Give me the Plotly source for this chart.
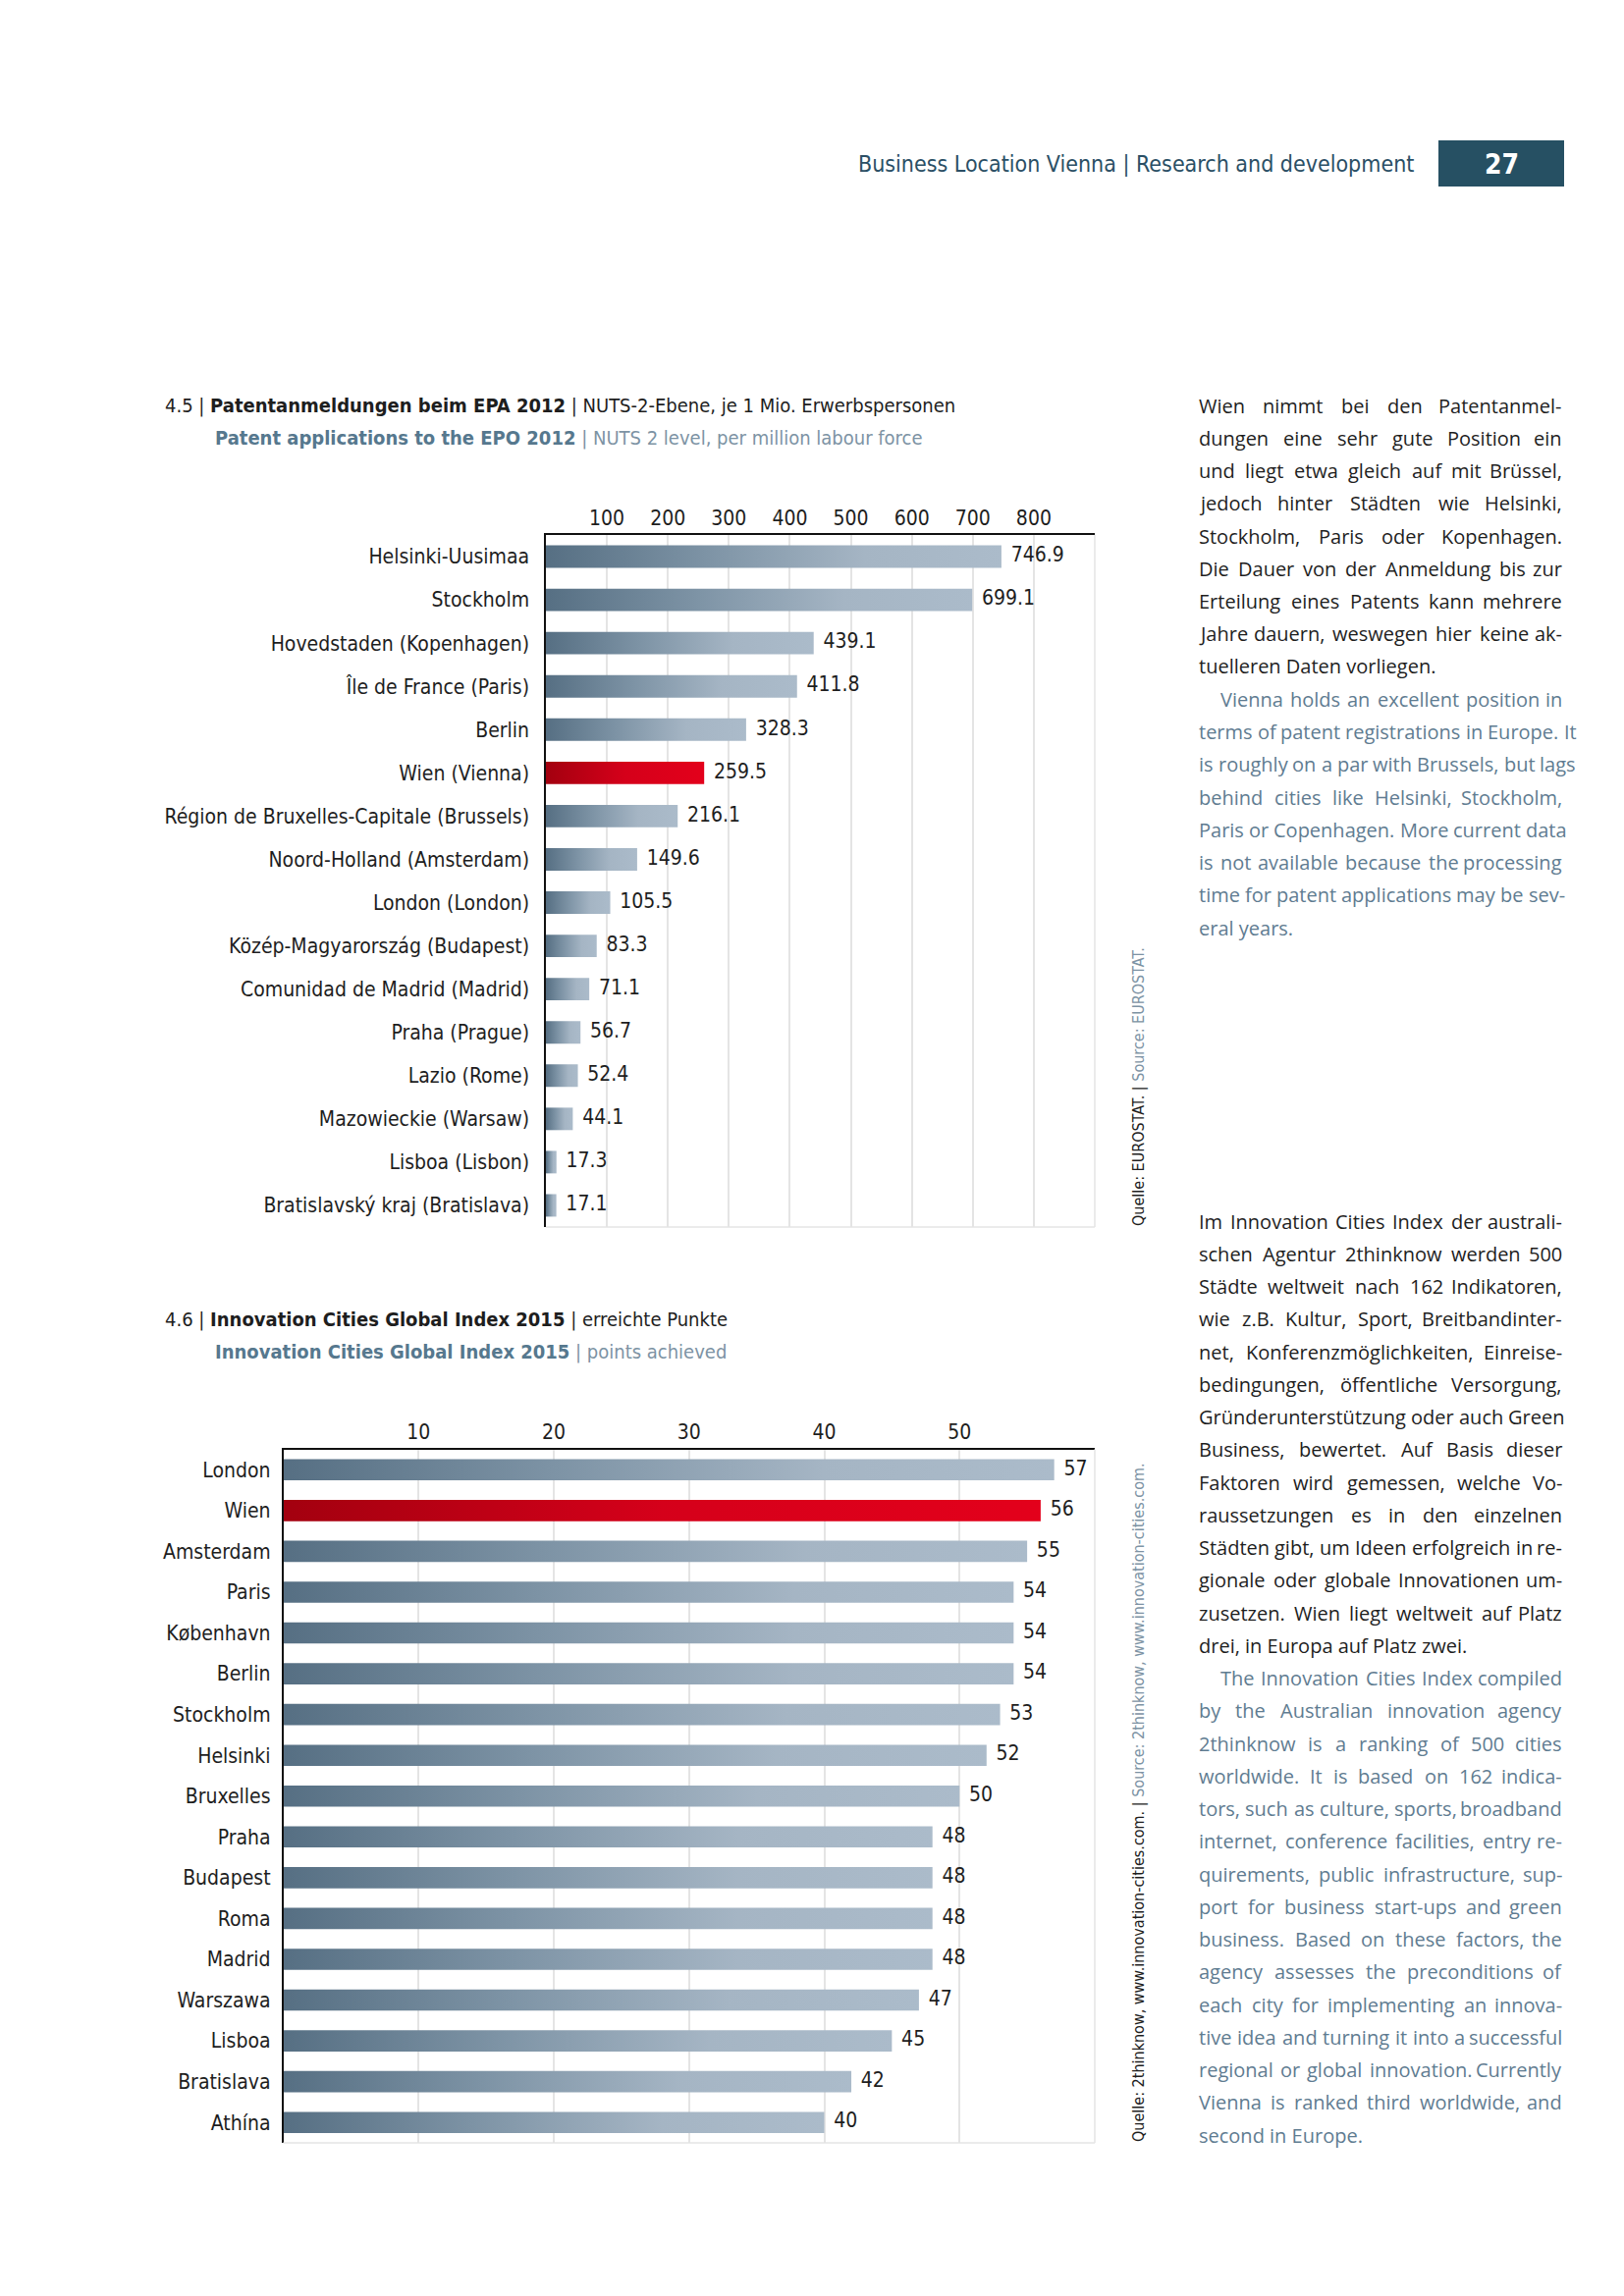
import plotly.graph_objects as go

W, H = 1654, 2339

# ---------------- data ----------------
patent_regions = [
    "Helsinki-Uusimaa", "Stockholm", "Hovedstaden (Kopenhagen)", "Île de France (Paris)",
    "Berlin", "Wien (Vienna)", "Région de Bruxelles-Capitale (Brussels)",
    "Noord-Holland (Amsterdam)", "London (London)", "Közép-Magyarország (Budapest)",
    "Comunidad de Madrid (Madrid)", "Praha (Prague)", "Lazio (Rome)",
    "Mazowieckie (Warsaw)", "Lisboa (Lisbon)", "Bratislavský kraj (Bratislava)",
]
patent_values = [746.9, 699.1, 439.1, 411.8, 328.3, 259.5, 216.1, 149.6, 105.5,
                 83.3, 71.1, 56.7, 52.4, 44.1, 17.3, 17.1]
patent_ticks = [100, 200, 300, 400, 500, 600, 700, 800]
patent_highlight = "Wien (Vienna)"

innov_cities = ["London", "Wien", "Amsterdam", "Paris", "København", "Berlin",
                "Stockholm", "Helsinki", "Bruxelles", "Praha", "Budapest", "Roma",
                "Madrid", "Warszawa", "Lisboa", "Bratislava", "Athína"]
innov_values = [57, 56, 55, 54, 54, 54, 53, 52, 50, 48, 48, 48, 48, 47, 45, 42, 40]
innov_ticks = [10, 20, 30, 40, 50]
innov_highlight = "Wien"

# ---------------- styles ----------------
NARROW = "Liberation Sans Narrow, Arial Narrow, DejaVu Sans Condensed, sans-serif"
BODY = "Open Sans, Noto Sans, sans-serif"
BLUE = [[0, "#566f83"], [0.35, "#7d93a5"], [0.7, "#a5b5c4"], [1, "#abbbca"]]
RED = [[0, "#a3000f"], [0.5, "#d5001a"], [1, "#e3001b"]]
GRID = "#e4e4e4"
TXT = "#1e1e1e"
BLUEGREY = "#5f7c91"
HALF = 0.26


def px(x):
    return x / W


def py(y):
    return 1 - y / H


fig = go.Figure()


def add_bars(cats, vals, highlight, xa, ya, fmt):
    for i, (c, v) in enumerate(zip(cats, vals)):
        fig.add_trace(go.Scatter(
            x=[0, v, v, 0, 0],
            y=[i - HALF, i - HALF, i + HALF, i + HALF, i - HALF],
            mode="lines", line=dict(width=0, color="rgba(0,0,0,0)"),
            fill="toself",
            fillgradient=dict(type="horizontal", colorscale=RED if c == highlight else BLUE),
            xaxis=xa, yaxis=ya, hoverinfo="skip", showlegend=False))
    fig.add_trace(go.Scatter(
        x=vals, y=list(range(len(vals))), mode="markers+text",
        text=[fmt.format(v) for v in vals], textposition="middle right",
        marker=dict(size=14, color="rgba(0,0,0,0)"),
        textfont=dict(family=NARROW, size=21, color=TXT),
        xaxis=xa, yaxis=ya, hoverinfo="skip", showlegend=False))


add_bars(patent_regions, patent_values, patent_highlight, "x", "y", "{:.1f}")
add_bars(innov_cities, innov_values, innov_highlight, "x2", "y2", "{:d}")

axfont = dict(family=NARROW, size=21, color=TXT)
common_x = dict(side="top", showgrid=True, gridcolor=GRID, gridwidth=1.5,
                showline=True, linecolor="#111111", linewidth=1.5, zeroline=False,
                ticks="", ticklabelstandoff=0, tickfont=axfont, fixedrange=True)
common_y = dict(showgrid=False, showline=True, linecolor="#111111", linewidth=1.5,
                zeroline=False, ticks="", tickfont=axfont, fixedrange=True)

fig.update_layout(
    width=W, height=H, margin=dict(l=0, r=0, t=0, b=0),
    paper_bgcolor="white", plot_bgcolor="white", showlegend=False,
    xaxis=dict(domain=[px(548), px(1107)], anchor="y", range=[0, 900],
               tickvals=patent_ticks, **common_x),
    yaxis=dict(domain=[py(1242), py(537)], anchor="x", range=[len(patent_regions) - 0.5, -0.5],
               tickvals=list(range(len(patent_regions))), ticktext=patent_regions,
               ticklabelstandoff=11, **common_y),
    xaxis2=dict(domain=[px(280.5), px(1107)], anchor="y2", range=[0, 60],
                tickvals=innov_ticks, **common_x),
    yaxis2=dict(domain=[py(2175), py(1468.5)], anchor="x2", range=[len(innov_cities) - 0.5, -0.5],
                tickvals=list(range(len(innov_cities))), ticktext=innov_cities,
                ticklabelstandoff=7, **common_y),
)

shapes = []
for xr, yr in (("x domain", "y domain"), ("x2 domain", "y2 domain")):
    shapes.append(dict(type="line", xref=xr, yref=yr, x0=1, x1=1, y0=0, y1=1,
                       line=dict(color=GRID, width=1.5)))
    shapes.append(dict(type="line", xref=xr, yref=yr, x0=0, x1=1, y0=0, y1=0,
                       line=dict(color=GRID, width=1.5)))
# page number box
shapes.append(dict(type="rect", xref="paper", yref="paper", x0=px(1457), x1=px(1585),
                   y0=py(182), y1=py(135), fillcolor="#265063", line=dict(width=0)))
fig.update_layout(shapes=shapes)

ann = []


def text(x, y, s, size, color=TXT, family=NARROW, xanchor="left", angle=0, yanchor="middle"):
    ann.append(dict(x=px(x), y=py(y), xref="paper", yref="paper", text=s, showarrow=False,
                    xanchor=xanchor, yanchor=yanchor, textangle=angle, align="left",
                    borderpad=0, font=dict(family=family, size=size, color=color)))


# header
text(1433, 159, "Business Location Vienna | Research and development", 23, "#2b4f65", xanchor="right")
text(1521, 159, "<b>27</b>", 28, "white", xanchor="center")

# chart titles
text(159, 405, "4.5 | <b>Patentanmeldungen beim EPA 2012</b> | NUTS-2-Ebene, je 1 Mio. Erwerbspersonen", 20)
text(210, 438, "<span style='color:#56788e'><b>Patent applications to the EPO 2012</b></span>"
     "<span style='color:#7d93a4'> | NUTS 2 level, per million labour force</span>", 20)
text(159, 1336, "4.6 | <b>Innovation Cities Global Index 2015</b> | erreichte Punkte", 20)
text(210, 1369, "<span style='color:#56788e'><b>Innovation Cities Global Index 2015</b></span>"
     "<span style='color:#7d93a4'> | points achieved</span>", 20)

# vertical sources
text(1151, 1242, "Quelle: EUROSTAT. | <span style='color:#7d93a4'>Source: EUROSTAT.</span>",
     16, TXT, angle=-90, xanchor="center", yanchor="bottom")
text(1151, 2175, "Quelle: 2thinknow, www.innovation-cities.com. | "
     "<span style='color:#7d93a4'>Source: 2thinknow, www.innovation-cities.com.</span>",
     16, TXT, angle=-90, xanchor="center", yanchor="bottom")

# body text (paragraphs, justified line by line)
block1_de = ["Wien nimmt bei den Patentanmel-", "dungen eine sehr gute Position ein",
             "und liegt etwa gleich auf mit Brüssel,", "jedoch hinter Städten wie Helsinki,",
             "Stockholm, Paris oder Kopenhagen.", "Die Dauer von der Anmeldung bis zur",
             "Erteilung eines Patents kann mehrere", "Jahre dauern, weswegen hier keine ak-",
             "tuelleren Daten vorliegen."]
block1_en = ["Vienna holds an excellent position in", "terms of patent registrations in Europe. It",
             "is roughly on a par with Brussels, but lags", "behind cities like Helsinki, Stockholm,",
             "Paris or Copenhagen. More current data", "is not available because the processing",
             "time for patent applications may be sev-", "eral years."]
block2_de = ["Im Innovation Cities Index der australi-", "schen Agentur 2thinknow werden 500",
             "Städte weltweit nach 162 Indikatoren,", "wie z.B. Kultur, Sport, Breitbandinter-",
             "net, Konferenzmöglichkeiten, Einreise-", "bedingungen, öffentliche Versorgung,",
             "Gründerunterstützung oder auch Green", "Business, bewertet. Auf Basis dieser",
             "Faktoren wird gemessen, welche Vo-", "raussetzungen es in den einzelnen",
             "Städten gibt, um Ideen erfolgreich in re-", "gionale oder globale Innovationen um-",
             "zusetzen. Wien liegt weltweit auf Platz", "drei, in Europa auf Platz zwei."]
block2_en = ["The Innovation Cities Index compiled", "by the Australian innovation agency",
             "2thinknow is a ranking of 500 cities", "worldwide. It is based on 162 indica-",
             "tors, such as culture, sports, broadband", "internet, conference facilities, entry re-",
             "quirements, public infrastructure, sup-", "port for business start-ups and green",
             "business. Based on these factors, the", "agency assesses the preconditions of",
             "each city for implementing an innova-", "tive idea and turning it into a successful",
             "regional or global innovation. Currently", "Vienna is ranked third worldwide, and",
             "second in Europe."]

# approximate Open Sans advance widths (1/1000 em) used to spread words for justification
OW = dict(zip("abcdefghijklmnopqrstuvwxyz",
              [556, 613, 476, 613, 561, 339, 548, 614, 253, 253, 525, 253, 930,
               614, 604, 613, 613, 408, 477, 353, 614, 501, 778, 524, 502, 477]))
OW.update(dict(zip("ABCDEFGHIJKLMNOPQRSTUVWXYZ",
                   [633, 648, 631, 729, 556, 516, 728, 738, 279, 267, 614, 519, 903,
                    754, 779, 602, 779, 618, 549, 553, 728, 595, 926, 577, 560, 571])))
OW.update({c: 572 for c in "0123456789"})
OW.update({",": 245, ".": 266, "-": 322, ":": 266, "(": 296, ")": 296,
           "ä": 556, "ö": 604, "ü": 614, "Ä": 633, "Ö": 779, "Ü": 728, "ß": 640})

BODY_SIZE = 20
LEFT, RIGHT = 1212, 1584
INDENT = 22
LH = 33.25


def wlen(s):
    return sum(OW.get(c, 560) for c in s) * BODY_SIZE / 1000


def body_line(x0, y, s, color, justify):
    if not justify:
        text(x0, y, s, BODY_SIZE, color, BODY)
        return
    words = s.split(" ")
    widths = [wlen(w) for w in words]
    gap = (RIGHT - x0 - sum(widths)) / (len(words) - 1)
    flush = gap >= 5
    gap = max(gap, 5)
    x = x0
    for k, w in enumerate(words):
        if k == len(words) - 1 and flush:
            text(RIGHT, y, w, BODY_SIZE, color, BODY, xanchor="right")
        else:
            text(x, y, w, BODY_SIZE, color, BODY)
        x += widths[k] + gap


def paragraph(y, lines, color, indent):
    for k, s in enumerate(lines):
        x0 = LEFT + (INDENT if (indent and k == 0) else 0)
        body_line(x0, y, s, color, k < len(lines) - 1)
        y += LH
    return y


def block(y0, de, en):
    y = paragraph(y0, de, TXT, False)
    paragraph(y, en, BLUEGREY, True)


block(405, block1_de, block1_en)
block(1236, block2_de, block2_en)

fig.update_layout(annotations=ann)
fig.write_html("out.html")
